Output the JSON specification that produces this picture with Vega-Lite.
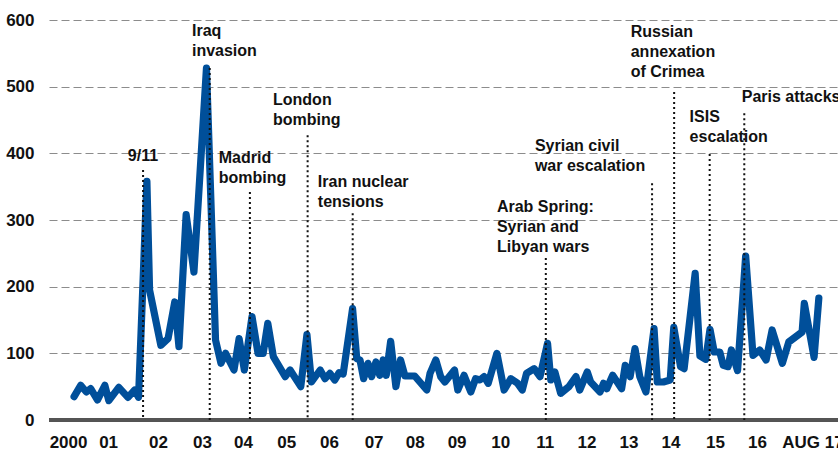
{
  "$schema": "https://vega.github.io/schema/vega-lite/v6.json",
  "width": 789,
  "height": 400,
  "autosize": {"type": "none"},
  "padding": {"left": 49, "top": 20, "right": 0, "bottom": 35},
  "background": "white",
  "config": {
    "view": {"stroke": null},
    "font": "Liberation Sans"
  },
  "datasets": {
    "gpr": [
      {"date": "2000-01-16", "v": 35}, {"date": "2000-03-13", "v": 52}, {"date": "2000-05-01", "v": 42},
      {"date": "2000-06-07", "v": 47}, {"date": "2000-08-04", "v": 30}, {"date": "2000-10-07", "v": 52},
      {"date": "2000-11-10", "v": 29}, {"date": "2001-02-04", "v": 49}, {"date": "2001-04-24", "v": 34},
      {"date": "2001-06-21", "v": 45}, {"date": "2001-07-24", "v": 34}, {"date": "2001-10-04", "v": 358},
      {"date": "2001-10-27", "v": 195}, {"date": "2002-02-01", "v": 112}, {"date": "2002-04-04", "v": 122},
      {"date": "2002-06-01", "v": 177}, {"date": "2002-07-07", "v": 110}, {"date": "2002-09-07", "v": 308},
      {"date": "2002-11-13", "v": 222}, {"date": "2003-03-01", "v": 528}, {"date": "2003-05-18", "v": 120},
      {"date": "2003-07-04", "v": 85}, {"date": "2003-08-13", "v": 100}, {"date": "2003-10-24", "v": 75},
      {"date": "2003-12-07", "v": 122}, {"date": "2004-01-21", "v": 75}, {"date": "2004-03-27", "v": 155},
      {"date": "2004-05-18", "v": 100}, {"date": "2004-07-01", "v": 100}, {"date": "2004-08-10", "v": 145},
      {"date": "2004-09-27", "v": 95}, {"date": "2005-01-07", "v": 65}, {"date": "2005-02-18", "v": 75},
      {"date": "2005-05-21", "v": 50}, {"date": "2005-07-13", "v": 128}, {"date": "2005-08-21", "v": 57},
      {"date": "2005-11-04", "v": 75}, {"date": "2005-12-16", "v": 62}, {"date": "2006-01-27", "v": 70},
      {"date": "2006-03-10", "v": 60}, {"date": "2006-04-16", "v": 71}, {"date": "2006-05-21", "v": 69},
      {"date": "2006-08-10", "v": 167}, {"date": "2006-09-15", "v": 92}, {"date": "2006-10-13", "v": 90},
      {"date": "2006-11-13", "v": 62}, {"date": "2006-12-21", "v": 85}, {"date": "2007-01-21", "v": 65},
      {"date": "2007-02-27", "v": 87}, {"date": "2007-04-01", "v": 67}, {"date": "2007-05-01", "v": 90},
      {"date": "2007-05-27", "v": 67}, {"date": "2007-07-04", "v": 118}, {"date": "2007-08-18", "v": 50},
      {"date": "2007-09-27", "v": 90}, {"date": "2007-11-04", "v": 66}, {"date": "2008-01-27", "v": 66},
      {"date": "2008-05-10", "v": 45}, {"date": "2008-06-07", "v": 70}, {"date": "2008-07-27", "v": 90},
      {"date": "2008-09-07", "v": 65}, {"date": "2008-10-13", "v": 57}, {"date": "2009-01-04", "v": 75},
      {"date": "2009-02-01", "v": 45}, {"date": "2009-03-27", "v": 67}, {"date": "2009-05-24", "v": 42},
      {"date": "2009-07-04", "v": 62}, {"date": "2009-08-10", "v": 60}, {"date": "2009-09-16", "v": 65},
      {"date": "2009-10-21", "v": 55}, {"date": "2010-01-04", "v": 100}, {"date": "2010-03-07", "v": 45},
      {"date": "2010-05-04", "v": 62}, {"date": "2010-07-01", "v": 55}, {"date": "2010-08-10", "v": 45},
      {"date": "2010-09-16", "v": 70}, {"date": "2010-11-21", "v": 77}, {"date": "2011-01-10", "v": 65},
      {"date": "2011-03-16", "v": 115}, {"date": "2011-04-13", "v": 60}, {"date": "2011-05-18", "v": 72},
      {"date": "2011-07-07", "v": 40}, {"date": "2011-09-16", "v": 50}, {"date": "2011-11-16", "v": 65},
      {"date": "2011-12-18", "v": 45}, {"date": "2012-02-21", "v": 72}, {"date": "2012-03-21", "v": 57},
      {"date": "2012-06-10", "v": 42}, {"date": "2012-07-10", "v": 55}, {"date": "2012-08-07", "v": 47},
      {"date": "2012-09-27", "v": 67}, {"date": "2012-12-13", "v": 47}, {"date": "2013-01-13", "v": 82},
      {"date": "2013-02-24", "v": 65}, {"date": "2013-04-07", "v": 107}, {"date": "2013-05-18", "v": 65},
      {"date": "2013-07-10", "v": 42}, {"date": "2013-09-18", "v": 137}, {"date": "2013-10-16", "v": 57},
      {"date": "2013-12-07", "v": 57}, {"date": "2014-02-04", "v": 60}, {"date": "2014-03-07", "v": 139},
      {"date": "2014-05-04", "v": 80}, {"date": "2014-06-04", "v": 77}, {"date": "2014-09-07", "v": 220},
      {"date": "2014-10-18", "v": 96}, {"date": "2014-12-07", "v": 91}, {"date": "2015-01-13", "v": 136},
      {"date": "2015-02-18", "v": 102}, {"date": "2015-04-07", "v": 102}, {"date": "2015-05-07", "v": 82},
      {"date": "2015-06-18", "v": 80}, {"date": "2015-07-16", "v": 105}, {"date": "2015-09-07", "v": 74},
      {"date": "2015-11-16", "v": 246}, {"date": "2016-01-18", "v": 97}, {"date": "2016-03-16", "v": 105},
      {"date": "2016-05-10", "v": 90}, {"date": "2016-07-01", "v": 135}, {"date": "2016-09-27", "v": 85},
      {"date": "2016-11-21", "v": 117}, {"date": "2017-03-16", "v": 132}, {"date": "2017-04-04", "v": 175},
      {"date": "2017-06-27", "v": 94}, {"date": "2017-08-07", "v": 183}
    ],
    "events": [
      {"date": "2001-09-01", "top": 375},
      {"date": "2003-03-29", "top": 528},
      {"date": "2004-03-09", "top": 342},
      {"date": "2005-07-19", "top": 427},
      {"date": "2006-08-11", "top": 310},
      {"date": "2011-03-01", "top": 243},
      {"date": "2013-09-01", "top": 355},
      {"date": "2014-03-10", "top": 492},
      {"date": "2015-01-10", "top": 399},
      {"date": "2015-11-04", "top": 460}
    ],
    "labels": [
      {"tx": "2001-04-23", "ty": 388.5, "label": ["9/11"]},
      {"tx": "2002-10-27", "ty": 576, "label": ["Iraq", "invasion"]},
      {"tx": "2003-06-15", "ty": 385.5, "label": ["Madrid", "bombing"]},
      {"tx": "2004-09-24", "ty": 472.5, "label": ["London", "bombing"]},
      {"tx": "2005-10-15", "ty": 349.5, "label": ["Iran nuclear", "tensions"]},
      {"tx": "2010-01-04", "ty": 312, "label": ["Arab Spring:", "Syrian and", "Libyan wars"]},
      {"tx": "2010-11-27", "ty": 403.5, "label": ["Syrian civil", "war escalation"]},
      {"tx": "2013-03-01", "ty": 574.5, "label": ["Russian", "annexation", "of Crimea"]},
      {"tx": "2014-07-21", "ty": 447, "label": ["ISIS", "escalation"]},
      {"tx": "2015-10-13", "ty": 477, "label": ["Paris attacks"]}
    ]
  },
  "layer": [
    {
      "data": {"name": "gpr"},
      "mark": {"type": "rule", "color": "#555555", "strokeWidth": 2.5},
      "encoding": {"y": {"datum": 0, "type": "quantitative"}}
    },
    {
      "data": {"name": "gpr"},
      "mark": {"type": "line", "color": "#004f9a", "strokeWidth": 7.2, "strokeJoin": "round", "strokeCap": "round"},
      "encoding": {
        "x": {
          "field": "date", "type": "temporal",
          "scale": {"type": "utc", "domain": ["1999-06-14", "2018-01-19"]},
          "axis": {
            "title": null, "grid": false, "ticks": false, "domain": false,
            "labelFont": "Liberation Sans", "labelFontSize": 17, "labelFontWeight": "bold",
            "labelColor": "#111111", "labelPadding": 14, "labelOverlap": false, "labelFlush": false, "labelBound": false,
            "values": [
              {"year": 1999, "month": 11, "date": 25, "utc": true},
              {"year": 2000, "month": 11, "date": 4, "utc": true},
              {"year": 2002, "month": 1, "date": 7, "utc": true},
              {"year": 2003, "month": 1, "date": 21, "utc": true},
              {"year": 2004, "month": 1, "date": 10, "utc": true},
              {"year": 2005, "month": 1, "date": 16, "utc": true},
              {"year": 2006, "month": 1, "date": 19, "utc": true},
              {"year": 2007, "month": 2, "date": 7, "utc": true},
              {"year": 2008, "month": 1, "date": 28, "utc": true},
              {"year": 2009, "month": 1, "date": 22, "utc": true},
              {"year": 2010, "month": 2, "date": 1, "utc": true},
              {"year": 2011, "month": 2, "date": 19, "utc": true},
              {"year": 2012, "month": 2, "date": 15, "utc": true},
              {"year": 2013, "month": 2, "date": 10, "utc": true},
              {"year": 2014, "month": 2, "date": 7, "utc": true},
              {"year": 2015, "month": 2, "date": 25, "utc": true},
              {"year": 2016, "month": 2, "date": 22, "utc": true},
              {"year": 2017, "month": 6, "date": 13, "utc": true}
            ],
            "labelExpr": "utcyear(datum.value) == 1999 ? '2000' : utcyear(datum.value) == 2017 ? 'AUG 17' : utcyear(datum.value) == 2000 ? '01' : slice('0' + (utcyear(datum.value) - 2000), -2)"
          }
        },
        "y": {
          "field": "v", "type": "quantitative",
          "scale": {"domain": [0, 600], "nice": false, "zero": true},
          "axis": {
            "title": null, "grid": true, "gridDash": [8, 4], "gridColor": "#8c8c8c", "gridWidth": 1,
            "ticks": false, "domain": false, "values": [0, 100, 200, 300, 400, 500, 600],
            "labelFont": "Liberation Sans", "labelFontSize": 17, "labelFontWeight": "bold",
            "labelColor": "#111111", "labelPadding": 15
          }
        }
      }
    },
    {
      "data": {"name": "events"},
      "mark": {"type": "rule", "color": "#111111", "strokeWidth": 2, "strokeDash": [2, 3]},
      "encoding": {
        "x": {"field": "date", "type": "temporal"},
        "y": {"field": "top", "type": "quantitative"},
        "y2": {"datum": 0}
      }
    },
    {
      "data": {"name": "labels"},
      "mark": {"type": "text", "font": "Liberation Sans", "fontSize": 16, "fontWeight": "bold", "color": "#111111", "align": "left", "baseline": "alphabetic", "lineHeight": 20},
      "encoding": {
        "x": {"field": "tx", "type": "temporal"},
        "y": {"field": "ty", "type": "quantitative"},
        "text": {"field": "label"}
      }
    }
  ]
}
